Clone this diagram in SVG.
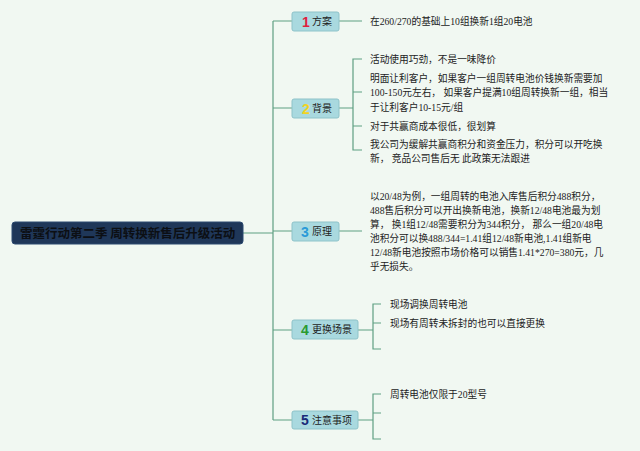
<svg xmlns="http://www.w3.org/2000/svg" width="640" height="451" viewBox="0 0 640 451">
<style>
.bg{fill:#f1f8f2}
.ln{fill:none;stroke:#5f9f82;stroke-width:1.2}
.box{fill:#a9d9df;stroke:#8ec3c9;stroke-width:1}
.lbl{font-family:"Noto Sans CJK SC",sans-serif;font-size:10px;fill:#222}
.num{font-family:"Liberation Sans","Noto Sans CJK SC",sans-serif;font-size:14px;font-weight:bold}
.t{font-family:"Liberation Serif","Noto Sans CJK SC",serif;font-size:9.7px;fill:#222}
.root{font-family:"Noto Sans CJK SC",sans-serif;font-size:12.5px;font-weight:bold;fill:#0c0f14}
</style>
<rect class="bg" x="0" y="0" width="640" height="451"/>
<g id="connectors">
<path class="ln" d="M243 233H273M273 21V420"/>
<path class="ln" d="M273 21H292M339 21H362"/>
<path class="ln" d="M273 108H292M339 108H353M362 59H353V150H362M353 92H362M353 126H362"/>
<path class="ln" d="M273 231H292M339 231H362"/>
<path class="ln" d="M273 330H292M358 330H373M381 304H373V349H381M373 323H381"/>
<path class="ln" d="M273 420H292M358 420H373M381 394H373V439H381M373 413H381"/>
</g>
<g id="root">
<rect x="12" y="222" width="231" height="22" rx="3" fill="#1f3759" stroke="#2c4a70"/>
<text class="root" x="20" y="237.5">雷霆行动第二季 周转换新售后升级活动</text>
</g>
<g id="n1">
<rect class="box" x="292" y="12" width="47" height="19" rx="2"/>
<text class="num" x="302" y="26.5" fill="#e0203e">1</text>
<text class="lbl" x="312" y="25">方案</text>
<text class="t" x="370" y="24.5">在260/270的基础上10组换新1组20电池</text>
</g>
<g id="n2">
<rect class="box" x="292" y="99" width="47" height="19" rx="2"/>
<text class="num" x="302" y="113.5" fill="#f2d322">2</text>
<text class="lbl" x="312" y="112">背景</text>
<text class="t" x="370" y="62.5">活动使用巧劲，不是一味降价</text>
<text class="t" x="370" y="81.5">明面让利客户，如果客户一组周转电池价钱换新需要加</text>
<text class="t" x="370" y="95.5">100-150元左右， 如果客户提满10组周转换新一组，相当</text>
<text class="t" x="370" y="110.5">于让利客户10-15元/组</text>
<text class="t" x="370" y="129.5">对于共赢商成本很低，很划算</text>
<text class="t" x="370" y="147.5">我公司为缓解共赢商积分和资金压力，积分可以开吃换</text>
<text class="t" x="370" y="161.5">新， 竞品公司售后无 此政策无法跟进</text>
</g>
<g id="n3">
<rect class="box" x="292" y="222" width="47" height="19" rx="2"/>
<text class="num" x="301" y="236.5" fill="#2a9ad8">3</text>
<text class="lbl" x="312" y="235">原理</text>
<text class="t" x="370" y="199.5">以20/48为例，一组周转的电池入库售后积分488积分，</text>
<text class="t" x="370" y="213.5">488售后积分可以开出换新电池，换新12/48电池最为划</text>
<text class="t" x="370" y="227.5">算， 换1组12/48需要积分为344积分， 那么一组20/48电</text>
<text class="t" x="370" y="241.5">池积分可以换488/344=1.41组12/48新电池,1.41组新电</text>
<text class="t" x="370" y="255.5">12/48新电池按照市场价格可以销售1.41*270=380元，几</text>
<text class="t" x="370" y="270">乎无损失。</text>
</g>
<g id="n4">
<rect class="box" x="292" y="320" width="66" height="19" rx="2"/>
<text class="num" x="301" y="334.5" fill="#2a9a30">4</text>
<text class="lbl" x="312" y="333">更换场景</text>
<text class="t" x="390" y="307.5">现场调换周转电池</text>
<text class="t" x="390" y="326.5">现场有周转未拆封的也可以直接更换</text>
</g>
<g id="n5">
<rect class="box" x="292" y="411" width="66" height="18" rx="2"/>
<text class="num" x="301" y="425" fill="#1a2a78">5</text>
<text class="lbl" x="312" y="423.5">注意事项</text>
<text class="t" x="390" y="397.5">周转电池仅限于20型号</text>
</g>
</svg>
